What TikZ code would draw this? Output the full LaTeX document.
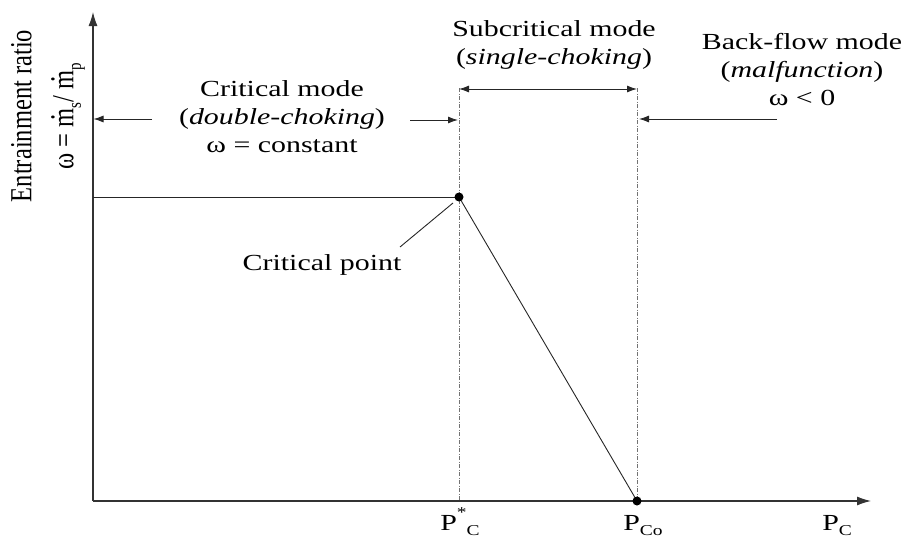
\documentclass[tikz,border=0pt]{standalone}
\usepackage{fontspec}
\setmainfont{Liberation Serif}
\usetikzlibrary{arrows.meta}
\newsavebox{\mdotbox}
\newcommand{\mdot}{\leavevmode\sbox{\mdotbox}{m}\makebox[\wd\mdotbox][c]{\raisebox{0.62em}[0pt][0pt]{.}}\kern-\wd\mdotbox\usebox{\mdotbox}}
\newcommand{\lo}[1]{\raisebox{-0.25em}{\fontsize{15}{15}\selectfont #1}}
\newcommand{\hi}[1]{\raisebox{0.55em}{\fontsize{15}{15}\selectfont #1}}
\begin{document}
\begin{tikzpicture}[x=1pt,y=-1pt,
  ax/.style={line width=1.1pt, draw=black!80, -{Latex[length=14pt,width=9pt]}},
  ln/.style={line width=0.9pt, draw=black!85},
  dd/.style={line width=0.9pt, draw=black!55, dash pattern=on 4pt off 1.5pt on 1pt off 1.5pt},
  arr/.style={line width=0.9pt, draw=black!85, -{Latex[length=10pt,width=7pt]}},
  darr/.style={line width=0.9pt, draw=black!85, {Latex[length=10pt,width=7pt]}-{Latex[length=10pt,width=7pt]}},
  txt/.style={font=\fontsize{23}{28}\selectfont, xscale=1.3, inner sep=0pt, align=center},
  cpdot/.style={circle, fill=black, inner sep=0pt, minimum size=9pt}
]
\useasboundingbox (0,0) rectangle (906,538);
% coordinates
\coordinate (O) at (93,501);
\coordinate (ytop) at (93,12);
\coordinate (xend) at (871,501);
\coordinate (cpc) at (459,197);
\coordinate (pcoc) at (637,501);
\coordinate (h0) at (93,197);
\coordinate (d1t) at (459,88);
\coordinate (d1b) at (459,501);
\coordinate (d2t) at (637,88);
\coordinate (d2b) at (637,501);
% dash-dot boundaries
\draw[dd] (d1t) -- (d1b);
\draw[dd] (d2t) -- (d2b);
% axes
\draw[ax] (O) -- (ytop);
\draw[ax] (O) -- (xend);
% curve
\draw[ln] (h0) -- (cpc);
\draw[ln] (cpc) -- (pcoc);
\node[cpdot] (cp) at (cpc) {};
\node[cpdot] (pco) at (pcoc) {};
% mode arrows
\coordinate (s1) at (459,89);
\coordinate (s2) at (637,89);
\draw[darr] (s1) -- (s2);
\coordinate (la1) at (152,119);
\coordinate (la2) at (93.5,119);
\draw[arr] (la1) -- (la2);
\coordinate (ra1) at (410,120);
\coordinate (ra2) at (458,120);
\draw[arr] (ra1) -- (ra2);
\coordinate (ba1) at (777,119);
\coordinate (ba2) at (639,119);
\draw[arr] (ba1) -- (ba2);
% texts
\node[txt, anchor=north] (crit) at (282,80) {Critical mode\\(\textit{double-choking})\\ω = constant};
\node[txt, anchor=north] (sub) at (554,20) {Subcritical mode\\(\textit{single-choking})};
\node[txt, anchor=north] (back) at (802,33) {Back-flow mode\\(\textit{malfunction})\\ω < 0};
\node[txt, anchor=base] (cpl) at (322,270) {Critical point};
\coordinate (lead1) at (400,247);
\coordinate (lead2) at (453,203);
\draw[ln] (lead1) -- (lead2);
\node[txt, anchor=base west] (pcs) at (440,530) {P\hi{*}\lo{C}};
\node[txt, anchor=base west] (pco0) at (623,530) {P\lo{Co}};
\node[txt, anchor=base west] (pc) at (822,530) {P\lo{C}};
\node[font=\fontsize{24.5}{27.5}\selectfont, inner sep=0pt, align=center, xscale=1.25, rotate=90] (ylab) at (48,116) {Entrainment ratio\\[6pt]ω = \mdot\lo{s}/ \mdot\lo{p}};
\end{tikzpicture}
\end{document}
